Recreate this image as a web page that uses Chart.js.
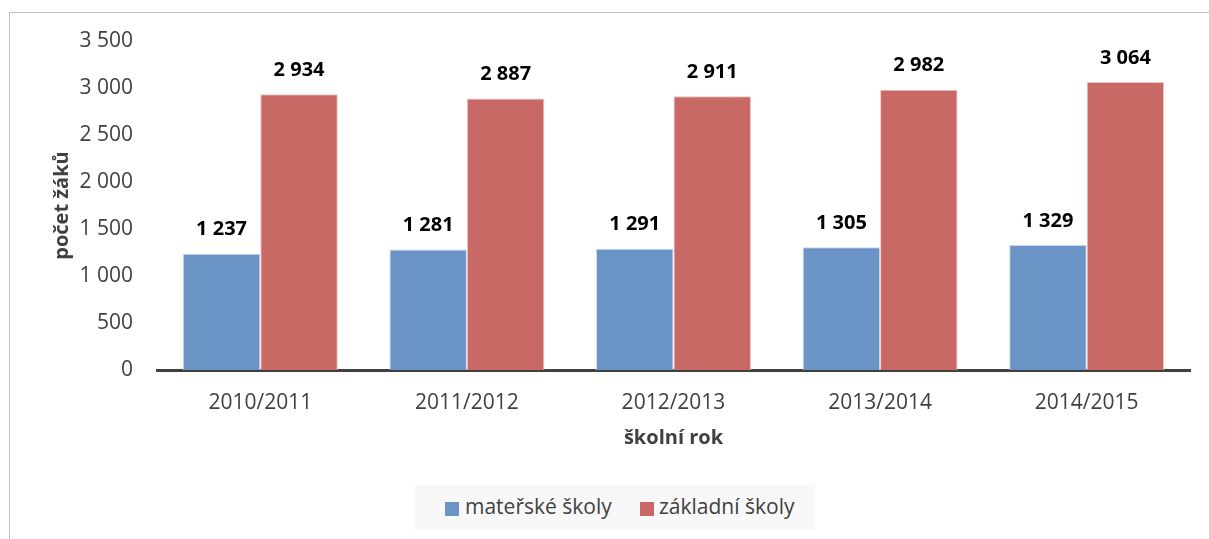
<!DOCTYPE html>
<html>
<head>
<meta charset="utf-8">
<script src="https://cdn.jsdelivr.net/npm/chart.js@4.4.1/dist/chart.umd.min.js"></script>
<style>
  html, body { margin:0; padding:0; background:#fff; }
  #wrap { position:relative; width:1209px; height:539px; overflow:hidden; font-family:"Open Sans", sans-serif; }
  #frame { position:absolute; left:9px; top:12px; width:1300px; height:600px; border-top:1px solid #bfbfbf; border-left:1px solid #bfbfbf; }
  #chart { position:absolute; left:0; top:0; }
  #legend { position:absolute; left:415px; top:485px; width:400px; height:45px; background:#f8f8f8; }
  .sw { position:absolute; width:14px; height:14px; top:17px; }
  .lt { position:absolute; top:6px; font-size:21px; line-height:30px; color:#404040; white-space:nowrap; }
</style>
</head>
<body>
<div id="wrap">
  <div id="frame"></div>
  <canvas id="chart" width="1209" height="539"></canvas>
  <div id="legend"></div>
</div>
<script>
const categories = ["2010/2011", "2011/2012", "2012/2013", "2013/2014", "2014/2015"];
const seriesNames = ["mateřské školy", "základní školy"];
const materskeSkoly = [1237, 1281, 1291, 1305, 1329];
const zakladniSkoly = [2934, 2887, 2911, 2982, 3064];
const yTicks = [0, 500, 1000, 1500, 2000, 2500, 3000, 3500];
const colors = ["#6a93c6", "#c96965"];
const borderColors = ["#c9d8ec", "#ebc4c2"];

function fmt(v) { return String(v).replace(/\B(?=(\d{3})+(?!\d))/g, " "); }

// HTML legend
const legend = document.getElementById("legend");
const legendPos = [[30, 50], [225, 244]];
seriesNames.forEach((n, i) => {
  const s = document.createElement("div");
  s.className = "sw"; s.style.left = legendPos[i][0] + "px"; s.style.background = colors[i];
  const t = document.createElement("div");
  t.className = "lt"; t.style.left = legendPos[i][1] + "px"; t.textContent = n;
  legend.appendChild(s); legend.appendChild(t);
});

const dataLabels = {
  id: "dataLabels",
  afterDatasetsDraw(chart) {
    const ctx = chart.ctx;
    ctx.save();
    ctx.font = "bold 20px 'Open Sans', sans-serif";
    ctx.fillStyle = "#000";
    ctx.textAlign = "center";
    ctx.textBaseline = "middle";
    chart.data.datasets.forEach((ds, di) => {
      chart.getDatasetMeta(di).data.forEach((bar, i) => {
        ctx.fillText(fmt(ds.data[i]), bar.x, bar.y - 24);
      });
    });
    ctx.restore();
  }
};

new Chart(document.getElementById("chart"), {
  type: "bar",
  data: {
    labels: categories,
    datasets: [
      { label: seriesNames[0], data: materskeSkoly, backgroundColor: colors[0], borderColor: borderColors[0], borderWidth: 1 },
      { label: seriesNames[1], data: zakladniSkoly, backgroundColor: colors[1], borderColor: borderColors[1], borderWidth: 1 }
    ]
  },
  options: {
    responsive: false,
    animation: false,
    events: [],
    layout: { padding: { top: 41, right: 19, bottom: 89, left: 0 } },
    datasets: { bar: { categoryPercentage: 0.75, barPercentage: 1.0 } },
    plugins: { legend: { display: false }, tooltip: { enabled: false } },
    scales: {
      x: {
        grid: { display: false, drawTicks: false },
        border: { display: true, color: "#404040", width: 3 },
        ticks: { color: "#404040", font: { family: "'Open Sans', sans-serif", size: 21, lineHeight: 1.2 }, padding: 20, maxRotation: 0 },
        title: { display: true, text: "školní rok", color: "#404040", font: { family: "'Open Sans', sans-serif", size: 20, weight: "bold", lineHeight: 1.2 }, padding: { top: 0, bottom: 0 } },
        afterFit(scale) { scale.height = 80; }
      },
      y: {
        min: 0, max: 3500,
        grid: { display: false, drawTicks: false },
        border: { display: false },
        afterBuildTicks(scale) { scale.ticks = yTicks.map(v => ({ value: v })); },
        ticks: { color: "#404040", font: { family: "'Open Sans', sans-serif", size: 21, lineHeight: 1.2 }, padding: 24, callback: v => fmt(v) },
        title: { display: true, text: "počet žáků", color: "#404040", font: { family: "'Open Sans', sans-serif", size: 20, weight: "bold", lineHeight: 1.2 }, padding: { top: 50, bottom: 0 } },
        afterFit(scale) { scale.width = 157; }
      }
    }
  },
  plugins: [dataLabels]
});
</script>
</body>
</html>
